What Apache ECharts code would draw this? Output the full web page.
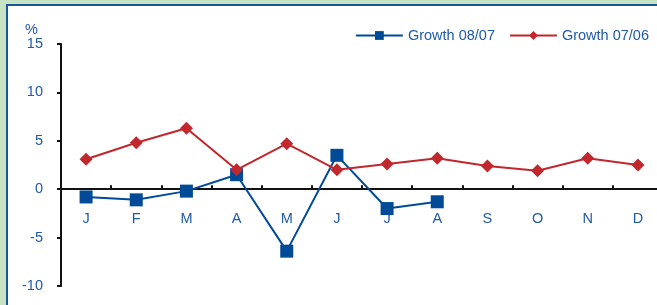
<!DOCTYPE html>
<html>
<head>
<meta charset="utf-8">
<script src="https://cdn.jsdelivr.net/npm/echarts@6/dist/echarts.min.js"></script>
<style>
  html, body { margin: 0; padding: 0; background: #c6e4c3; overflow: hidden; }
  #panel { position: absolute; left: 6px; top: 4px; width: 700px; height: 340px;
           background: #fff; border: 2px solid #1b55a0; }
  #chart { position: absolute; left: 0; top: 0; width: 680px; height: 305px; }
</style>
</head>
<body>
<div id="panel"></div>
<div id="chart"></div>
<script>
// months
var months = ['J', 'F', 'M', 'A', 'M', 'J', 'J', 'A', 'S', 'O', 'N', 'D'];
// growth 2008 vs 2007 (only up to August)
var growth0807 = [-0.8, -1.1, -0.2, 1.5, -6.4, 3.5, -2.0, -1.3];
// growth 2007 vs 2006
var growth0706 = [3.1, 4.8, 6.3, 2.0, 4.7, 2.0, 2.6, 3.2, 2.4, 1.9, 3.2, 2.5];

var blue = '#004a97';
var red = '#c1272d';
var txt = '#1f5aa6';
var font = 'Liberation Sans, Arial, sans-serif';

var chart = echarts.init(document.getElementById('chart'));
chart.setOption({
    backgroundColor: 'transparent',
    textStyle: { fontFamily: font },
    grid: { left: 61, top: 44, right: 17, bottom: 19, outerBoundsMode: 'none' },
    legend: {
        top: 23,
        right: 26,
        itemWidth: 47,
        itemHeight: 11,
        itemGap: 14,
        textStyle: { color: txt, fontSize: 14.5 },
        data: ['Growth 08/07', 'Growth 07/06']
    },
    graphic: [{
        type: 'text', left: 25, top: 22,
        style: { text: '%', fill: txt, font: '14.5px ' + font }
    }],
    xAxis: [{
        // zero line with the ticks
        type: 'category',
        data: months,
        axisLine: { onZero: true, lineStyle: { color: '#111', width: 2 } },
        axisTick: { show: true, inside: true, length: 4, lineStyle: { color: '#111', width: 2 } },
        axisLabel: { show: false }
    }, {
        // month labels just under the zero line
        type: 'category',
        data: months,
        position: 'bottom',
        axisLine: { show: false, onZero: false },
        axisTick: { show: false },
        axisLabel: { show: true, interval: 0, color: txt, fontSize: 14.5, margin: -75 }
    }],
    yAxis: {
        type: 'value',
        min: -10, max: 15, interval: 5,
        splitLine: { show: false },
        axisLine: { show: true, lineStyle: { color: '#111', width: 2 } },
        axisTick: { show: true, length: 4, lineStyle: { color: '#111', width: 2 } },
        axisLabel: { color: txt, fontSize: 14.5, margin: 18 }
    },
    series: [{
        name: 'Growth 08/07',
        type: 'line',
        data: growth0807,
        symbol: 'rect',
        symbolSize: 13,
        color: blue,
        lineStyle: { width: 2, color: blue },
        itemStyle: { color: blue }
    }, {
        name: 'Growth 07/06',
        type: 'line',
        data: growth0706,
        symbol: 'diamond',
        symbolSize: 13,
        color: red,
        lineStyle: { width: 2, color: red },
        itemStyle: { color: red }
    }]
});
</script>
</body>
</html>
